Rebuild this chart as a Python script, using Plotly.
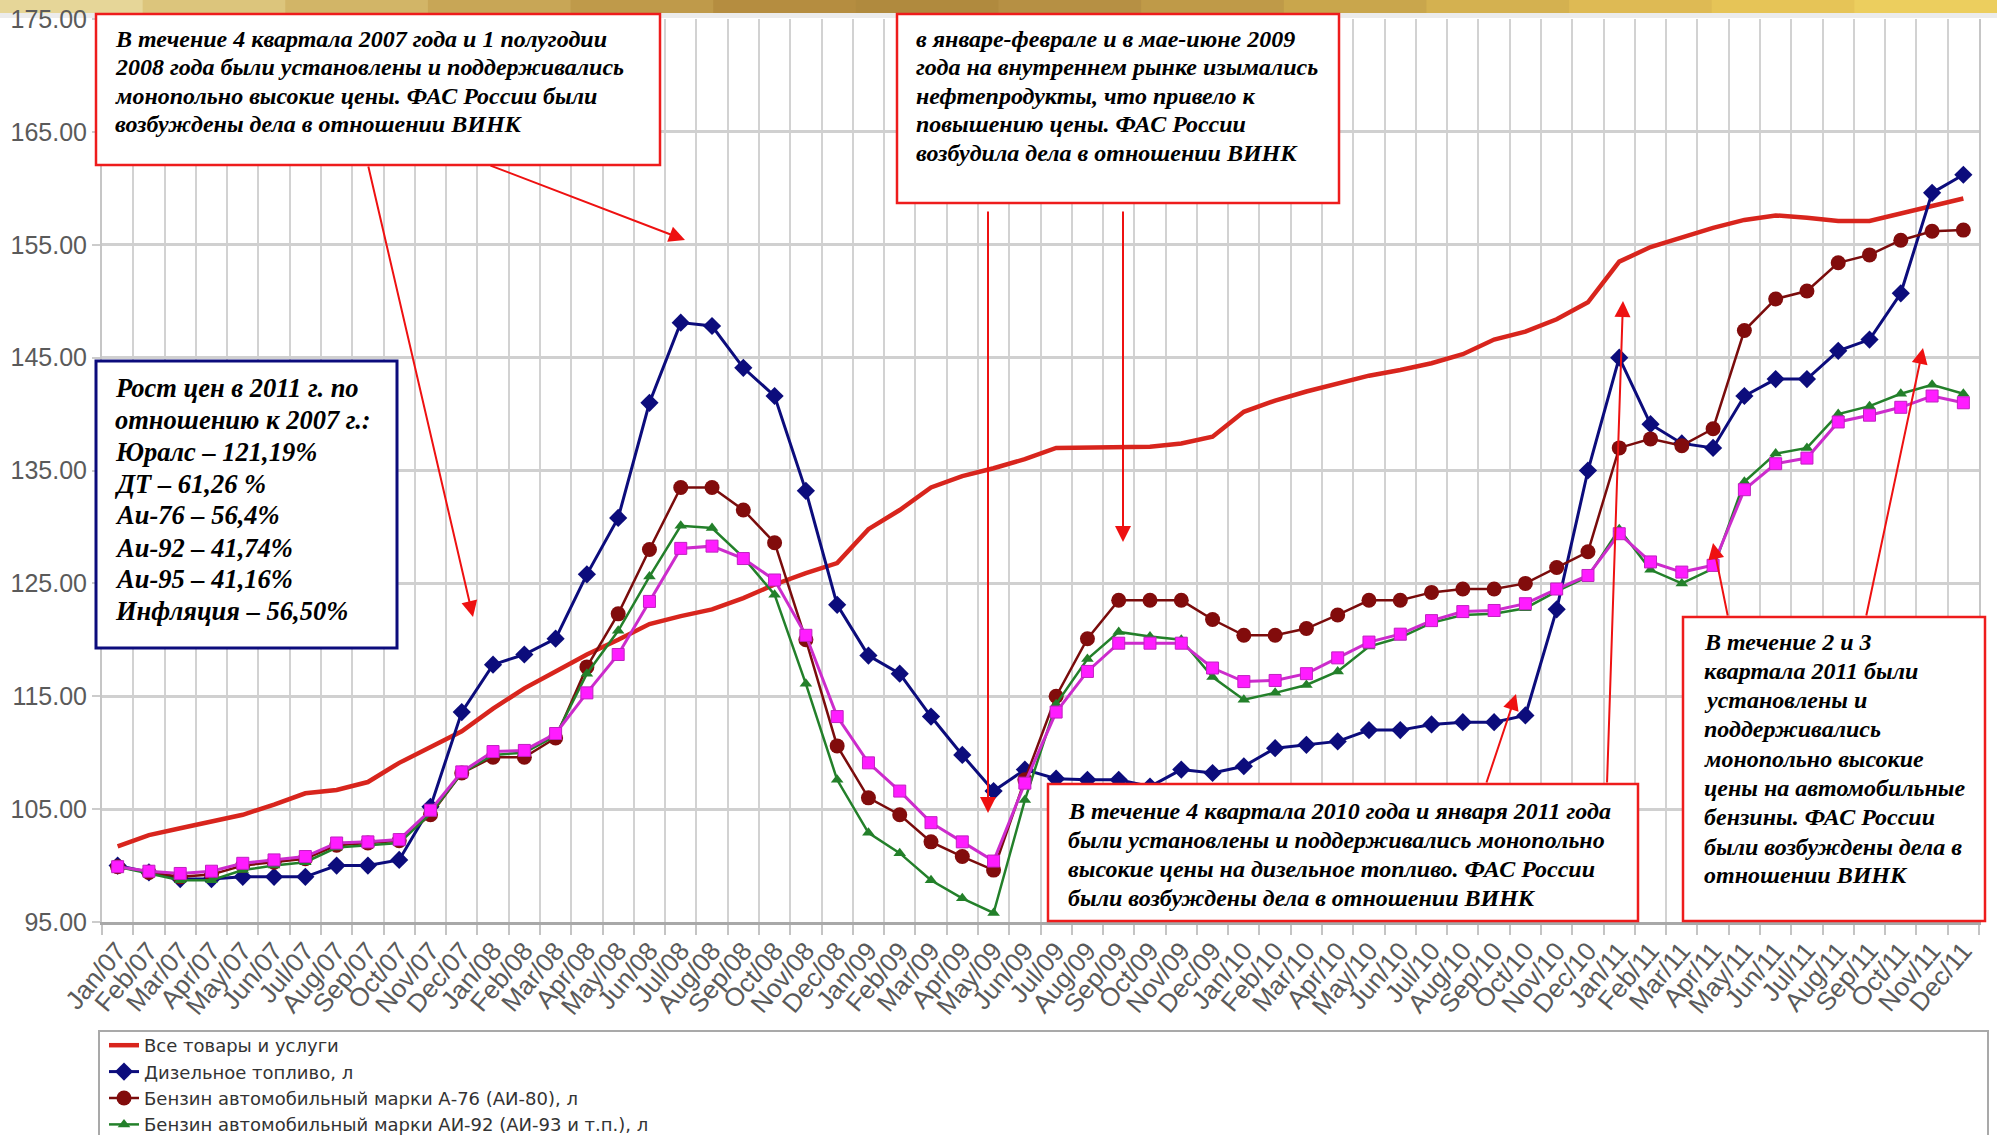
import plotly.graph_objects as go

# ---------------- data ----------------
months = ["Jan", "Feb", "Mar", "Apr", "May", "Jun", "Jul", "Aug", "Sep", "Oct", "Nov", "Dec"]
years = ["07", "08", "09", "10", "11"]
categories = [f"{m}/{y}" for y in years for m in months]

cpi = [101.7, 102.7, 103.3, 103.9, 104.5, 105.4, 106.4, 106.7, 107.4, 109.1, 110.5, 111.9,
       113.9, 115.7, 117.2, 118.7, 120.0, 121.4, 122.1, 122.7, 123.7, 124.9, 125.9, 126.8,
       129.8, 131.5, 133.5, 134.5, 135.2, 136.0, 137.0, 137.0, 137.0, 137.1, 137.4, 138.0,
       140.2, 141.2, 142.0, 142.7, 143.4, 143.9, 144.5, 145.3, 146.6, 147.3, 148.4, 149.9,
       153.5, 154.8, 155.7, 156.5, 157.2, 157.6, 157.4, 157.1, 157.1, 157.8, 158.4, 159.1]

diesel = [100.0, 99.4, 98.8, 98.8, 99.0, 99.0, 99.0, 100.0, 100.0, 100.5, 105.2, 113.6,
          117.8, 118.7, 120.1, 125.8, 130.8, 141.0, 148.1, 147.8, 144.1, 141.6, 133.2, 123.1,
          118.6, 117.0, 113.2, 109.8, 106.6, 108.5, 107.7, 107.6, 107.6, 107.0, 108.5, 108.2,
          108.8, 110.4, 110.7, 111.0, 112.0, 112.0, 112.5, 112.7, 112.7, 113.3, 122.7, 135.0,
          145.0, 139.1, 137.4, 137.0, 141.6, 143.1, 143.1, 145.6, 146.6, 150.7, 159.6, 161.2]

a76 = [99.9, 99.4, 99.0, 99.2, 100.0, 100.3, 100.6, 101.8, 102.0, 102.2, 104.5, 108.2,
       109.6, 109.6, 111.3, 117.6, 122.3, 128.0, 133.5, 133.5, 131.5, 128.6, 120.0, 110.6,
       106.0, 104.5, 102.1, 100.8, 99.6, 107.6, 115.0, 120.1, 123.5, 123.5, 123.5, 121.8,
       120.4, 120.4, 121.0, 122.2, 123.5, 123.5, 124.2, 124.5, 124.5, 125.0, 126.4, 127.8,
       137.0, 137.8, 137.2, 138.7, 147.4, 150.2, 150.9, 153.4, 154.1, 155.4, 156.2, 156.3]

ai92 = [99.9, 99.3, 98.7, 98.7, 99.6, 100.0, 100.3, 101.6, 101.8, 102.0, 104.6, 108.2,
        109.8, 110.0, 111.5, 117.0, 120.8, 125.6, 130.1, 129.9, 127.3, 124.0, 116.1, 107.6,
        102.9, 101.1, 98.7, 97.1, 95.8, 105.8, 114.3, 118.3, 120.7, 120.3, 120.0, 116.7,
        114.7, 115.3, 116.0, 117.2, 119.4, 120.2, 121.5, 122.2, 122.3, 122.8, 124.3, 125.6,
        129.8, 126.2, 125.0, 126.3, 134.0, 136.5, 137.0, 140.0, 140.7, 141.8, 142.6, 141.8]

ai95 = [99.9, 99.5, 99.3, 99.5, 100.2, 100.5, 100.8, 102.0, 102.1, 102.3, 104.9, 108.3,
        110.1, 110.2, 111.7, 115.3, 118.7, 123.4, 128.1, 128.3, 127.2, 125.3, 120.4, 113.2,
        109.1, 106.6, 103.8, 102.1, 100.4, 107.3, 113.6, 117.2, 119.7, 119.7, 119.7, 117.5,
        116.3, 116.4, 117.0, 118.4, 119.8, 120.5, 121.7, 122.5, 122.6, 123.2, 124.5, 125.7,
        129.4, 126.9, 126.0, 126.6, 133.3, 135.6, 136.1, 139.3, 139.9, 140.6, 141.6, 141.0]

series_names = ["Все товары и услуги",
                "Дизельное топливо, л",
                "Бензин автомобильный марки А-76 (АИ-80), л",
                "Бензин автомобильный марки АИ-92 (АИ-93 и т.п.), л",
                "Бензин автомобильный марки АИ-95 (АИ-98 и т.п.), л"]

box1_lines = ["В течение 4 квартала 2007 года и 1 полугодии",
              "2008 года были установлены и поддерживались",
              "монопольно высокие цены. ФАС России были",
              "возбуждены дела в отношении ВИНК"]
box2_lines = ["в январе-феврале и в мае-июне 2009",
              "года на внутреннем рынке изымались",
              "нефтепродукты, что привело к",
              "повышению цены. ФАС России",
              "возбудила дела в отношении ВИНК"]
box3_lines = ["Рост цен в 2011 г. по",
              "отношению к 2007 г.:",
              "Юралс – 121,19%",
              "ДТ – 61,26 %",
              "Аи-76 – 56,4%",
              "Аи-92 – 41,74%",
              "Аи-95 – 41,16%",
              "Инфляция – 56,50%"]
box4_lines = ["В течение 4 квартала 2010 года и января 2011 года",
              "были установлены и поддерживались монопольно",
              "высокие цены на дизельное топливо. ФАС России",
              "были возбуждены дела в отношении ВИНК"]
box5_lines = ["В течение 2 и 3",
              "квартала 2011 были",
              "установлены и",
              "поддерживались",
              "монопольно высокие",
              "цены на автомобильные",
              "бензины. ФАС России",
              "были возбуждены дела в",
              "отношении ВИНК"]

# ---------------- geometry helpers ----------------
W, H = 1997, 1135
ML, MR, MT, MB = 102, 18, 19, 213
PW = W - ML - MR
PH = H - MT - MB


def px(x):
    return (x - ML) / PW


def py(y):
    return (H - MB - y) / PH


fig = go.Figure()

fig.add_trace(go.Scatter(x=categories, y=cpi, name=series_names[0], mode="lines",
                         line=dict(color="#d8251d", width=4.5)))
fig.add_trace(go.Scatter(x=categories, y=diesel, name=series_names[1], mode="lines+markers",
                         line=dict(color="#0c0c7c", width=3),
                         marker=dict(symbol="diamond", size=14, color="#0c0c7c")))
fig.add_trace(go.Scatter(x=categories, y=a76, name=series_names[2], mode="lines+markers",
                         line=dict(color="#7a0c0c", width=2.5),
                         marker=dict(symbol="circle", size=15, color="#820c0c")))
fig.add_trace(go.Scatter(x=categories, y=ai92, name=series_names[3], mode="lines+markers",
                         line=dict(color="#23802a", width=2.5),
                         marker=dict(symbol="triangle-up", size=11, color="#23802a")))
fig.add_trace(go.Scatter(x=categories, y=ai95, name=series_names[4], mode="lines+markers",
                         showlegend=False,
                         line=dict(color="#cc2ccc", width=3),
                         marker=dict(symbol="square", size=12, color="#ff1cff",
                                     line=dict(color="#c020c0", width=1))))

shapes = []
# golden slide band at the very top
gold = ["#e6d698", "#dcc57c", "#d2b567", "#c8a656", "#bf9a4a", "#b58d40", "#b08a3e",
        "#b69044", "#bf9a48", "#c9a64c", "#d4b150", "#deba54", "#e6c457", "#ecce5e"]
n = len(gold)
for i, c in enumerate(gold):
    shapes.append(dict(type="rect", xref="paper", yref="paper",
                       x0=px(i * W / n), x1=px((i + 1) * W / n + 1),
                       y0=py(13), y1=py(0), fillcolor=c, line=dict(width=0), layer="below"))
shapes.append(dict(type="rect", xref="paper", yref="paper", x0=px(0), x1=px(W),
                   y0=py(18), y1=py(13), fillcolor="#ececec", line=dict(width=0), layer="below"))


def box(x0, y0, x1, y1, color, width=2.5):
    shapes.append(dict(type="rect", xref="paper", yref="paper",
                       x0=px(x0), x1=px(x1), y0=py(y1), y1=py(y0),
                       fillcolor="white", line=dict(color=color, width=width), layer="above"))


box(96, 14, 660, 165, "#ee1c1c")
box(897, 14, 1339, 203, "#ee1c1c")
box(96, 361, 397, 648, "#0c0c7c", 3)
box(1048, 784, 1638, 921, "#ee1c1c")
box(1683, 617, 1985, 921, "#ee1c1c")

# legend frame
shapes.append(dict(type="rect", xref="paper", yref="paper", x0=px(99), x1=px(1988),
                   y0=py(1180), y1=py(1031), fillcolor="rgba(0,0,0,0)",
                   line=dict(color="#a9a9a9", width=2), layer="below"))

annotations = []


def text_lines(lines, x, ys, size):
    for t, y in zip(lines, ys):
        annotations.append(dict(xref="paper", yref="paper", x=px(x), y=py(y),
                                xanchor="left", yanchor="middle", showarrow=False,
                                text=f"<b><i>{t}</i></b>",
                                font=dict(family="Liberation Serif", size=size, color="black")))


text_lines(box1_lines, 113, [39, 67, 96, 124], 24)
text_lines(box2_lines, 914, [39, 67, 96, 124, 153], 24)
text_lines(box3_lines, 113, [388, 420, 452, 484, 515, 548, 579, 611], 26.5)
text_lines(box4_lines, 1066, [811, 840, 869, 898], 24)
text_lines(box5_lines, 1702, [642, 671, 700, 729, 759, 788, 817, 847, 875], 24)


def arrow(x0, y0, x1, y1):
    annotations.append(dict(xref="paper", yref="paper", x=px(x1), y=py(y1),
                            ax=x0 - x1, ay=y0 - y1, axref="pixel", ayref="pixel",
                            text="", showarrow=True, arrowhead=2, arrowsize=1.6,
                            arrowwidth=2, arrowcolor="#ee1111", standoff=0, startstandoff=0))


arrow(368, 165, 473, 617)
arrow(489, 165, 685, 240)
arrow(988, 210, 988, 813)
arrow(1123, 210, 1123, 542)
arrow(1486, 784, 1516, 694)
arrow(1607, 784, 1623, 301)
arrow(1728, 617, 1713, 543)
arrow(1866, 617, 1923, 348)

fig.update_layout(
    width=W, height=H,
    margin=dict(l=ML, r=MR, t=MT, b=MB, autoexpand=False),
    paper_bgcolor="white", plot_bgcolor="white",
    shapes=shapes, annotations=annotations,
    showlegend=True,
    legend=dict(x=px(104), y=py(1027), xanchor="left", yanchor="top",
                bgcolor="rgba(0,0,0,0)", borderwidth=0, tracegroupgap=0,
                font=dict(family="DejaVu Sans", size=18, color="#333333")),
    xaxis=dict(type="category", range=[-0.5, 59.5], tickson="boundaries",
               showgrid=True, gridcolor="#d2d2d2", gridwidth=2,
               ticks="outside", ticklen=10, tickcolor="#c4c4c4", tickwidth=2,
               tickangle=-50, tickmode="array", tickvals=categories, ticktext=categories,
               tickfont=dict(family="Liberation Sans", size=26, color="#5a5a5a"),
               showline=True, linecolor="#a8a8a8", linewidth=3, zeroline=False),
    yaxis=dict(range=[95, 175], dtick=10, tick0=95, tickformat=".2f",
               showgrid=True, gridcolor="#d0d0d0", gridwidth=3,
               ticks="outside", ticklen=8, tickcolor="#cccccc", tickwidth=2,
               tickfont=dict(family="Liberation Sans", size=25, color="#5a5a5a"),
               showline=True, mirror=True, linecolor="#c6c6c6", linewidth=2, zeroline=False),
)

fig.write_html("out.html", config={"displayModeBar": False},
               post_script="document.body.style.margin='0px';document.body.style.overflow='hidden';")
